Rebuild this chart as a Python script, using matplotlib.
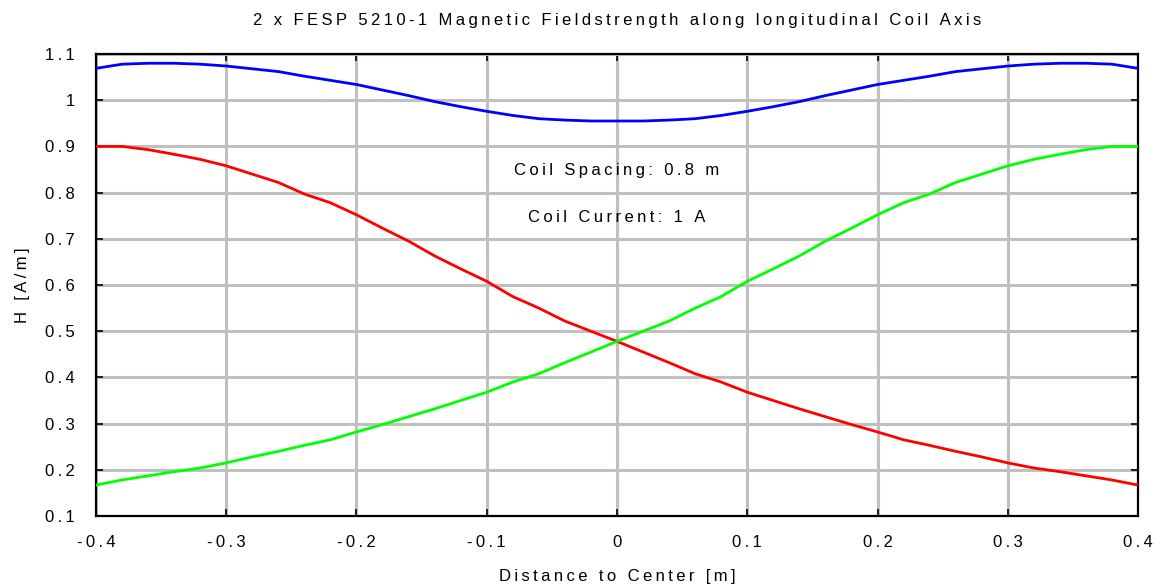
import numpy as np
import matplotlib
matplotlib.use('Agg')
import matplotlib.pyplot as plt
import matplotlib.ticker as ticker

plt.rcParams['font.family'] = ['Liberation Sans', 'DejaVu Sans']

# position along the axis [m]
x = [-0.40, -0.38, -0.36, -0.34, -0.32, -0.30, -0.28, -0.26, -0.24, -0.22,
     -0.20, -0.18, -0.16, -0.14, -0.12, -0.10, -0.08, -0.06, -0.04, -0.02,
     0.00, 0.02, 0.04, 0.06, 0.08, 0.10, 0.12, 0.14, 0.16, 0.18,
     0.20, 0.22, 0.24, 0.26, 0.28, 0.30, 0.32, 0.34, 0.36, 0.38, 0.40]

# field of the left coil
h_left = [0.900, 0.900, 0.893, 0.883, 0.872, 0.858, 0.840, 0.822, 0.797, 0.778,
          0.752, 0.723, 0.695, 0.663, 0.635, 0.608, 0.575, 0.550, 0.522, 0.500,
          0.478, 0.455, 0.432, 0.408, 0.390, 0.368, 0.350, 0.332, 0.315, 0.298,
          0.282, 0.265, 0.253, 0.240, 0.228, 0.215, 0.204, 0.196, 0.187, 0.178,
          0.167]

# field of the right coil
h_right = [0.167, 0.178, 0.187, 0.196, 0.204, 0.215, 0.228, 0.240, 0.253, 0.265,
           0.282, 0.298, 0.315, 0.332, 0.350, 0.368, 0.390, 0.408, 0.432, 0.455,
           0.478, 0.500, 0.522, 0.550, 0.575, 0.608, 0.635, 0.663, 0.695, 0.723,
           0.752, 0.778, 0.797, 0.822, 0.840, 0.858, 0.872, 0.883, 0.893, 0.900,
           0.900]

# both coils together
h_total = [1.069, 1.078, 1.080, 1.080, 1.078, 1.074, 1.068, 1.062, 1.052, 1.043,
           1.034, 1.022, 1.010, 0.997, 0.986, 0.976, 0.967, 0.960, 0.957, 0.955,
           0.955, 0.955, 0.957, 0.960, 0.967, 0.976, 0.986, 0.997, 1.010, 1.022,
           1.034, 1.043, 1.052, 1.062, 1.068, 1.074, 1.078, 1.080, 1.080, 1.078,
           1.069]

xticks = [-0.4, -0.3, -0.2, -0.1, 0, 0.1, 0.2, 0.3, 0.4]
xticklabels = ['-0.4', '-0.3', '-0.2', '-0.1', '0', '0.1', '0.2', '0.3', '0.4']
yticks = [0.1, 0.2, 0.3, 0.4, 0.5, 0.6, 0.7, 0.8, 0.9, 1.0, 1.1]
yticklabels = ['0.1', '0.2', '0.3', '0.4', '0.5', '0.6', '0.7', '0.8', '0.9', '1', '1.1']

SP = '\u2009'

def spaced(s):
    # wide letter spacing like the original export
    return SP.join(s)

fig = plt.figure(figsize=(11.55, 5.84), dpi=100)
ax = fig.add_axes([0.0831, 0.1164, 0.9022, 0.7911])

ax.plot(x, h_total, color='#0000ff', lw=2.0, zorder=3)
ax.plot(x, h_left, color='#ff0000', lw=2.0, zorder=3)
ax.plot(x, h_right, color='#00ff00', lw=2.0, zorder=3)

ax.set_xlim(-0.4, 0.4)
ax.set_ylim(0.1, 1.1)
ax.xaxis.set_major_locator(ticker.FixedLocator(xticks))
ax.xaxis.set_major_formatter(ticker.FixedFormatter([spaced(t) for t in xticklabels]))
ax.yaxis.set_major_locator(ticker.FixedLocator(yticks))
ax.yaxis.set_major_formatter(ticker.FixedFormatter([spaced(t) for t in yticklabels]))

ax.grid(True, color='#c0c0c0', lw=2.2, zorder=0)
ax.set_axisbelow(True)
ax.tick_params(direction='in', length=5, width=1.2, top=True, right=True,
               labelsize=12, colors='black')
ax.tick_params(axis='x', pad=14)
ax.tick_params(axis='y', pad=15)
for s in ax.spines.values():
    s.set_linewidth(1.6)

ax.text(0, 0.847, spaced('Coil Spacing: 0.8 m'), ha='center', va='center', fontsize=12)
ax.text(0, 0.747, spaced('Coil Current: 1 A'), ha='center', va='center', fontsize=12)

ax.set_title(spaced('2 x FESP 5210-1 Magnetic Fieldstrength along longitudinal Coil Axis'),
             fontsize=12, pad=21)
ax.set_xlabel(spaced('Distance to Center [m]'), fontsize=12, labelpad=13)
ax.set_ylabel(spaced('H [A/m]'), fontsize=12, labelpad=11)

fig.savefig('out.png', dpi=100)
